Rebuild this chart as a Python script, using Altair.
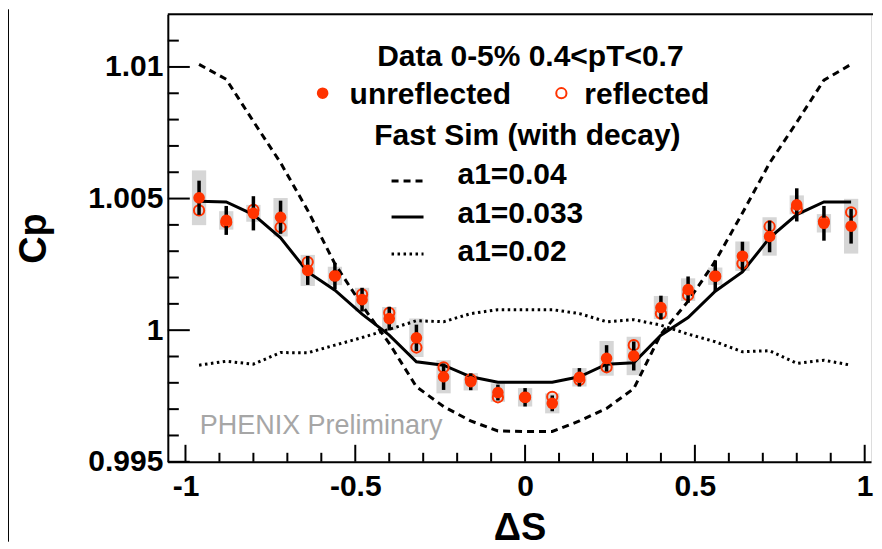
import altair as alt
import pandas as pd

# ---------------- data ----------------
delta_s = [-0.96, -0.88, -0.80, -0.72, -0.64, -0.56, -0.48, -0.40, -0.32, -0.24, -0.16, -0.08, 0.0,
           0.08, 0.16, 0.24, 0.32, 0.40, 0.48, 0.56, 0.64, 0.72, 0.80, 0.88, 0.96]

unreflected = [1.00503, 1.00417, 1.00444, 1.00429, 1.00227, 1.00206, 1.00116, 1.00044, 0.99971,
               0.99823, 0.99804, 0.99763, 0.99745, 0.99722, 0.99821, 0.99893, 0.99902, 1.00086,
               1.00154, 1.00205, 1.00281, 1.00356, 1.00476, 1.00406, 1.00395]

reflected = [1.00455, 1.00410, 1.00457, 1.00391, 1.00259, 1.00206, 1.00136, 1.00066, 0.99934,
             0.99859, 0.99813, 0.99745, 0.99745, 0.99747, 0.99811, 0.99859, 0.99943, 1.00063,
             1.00133, 1.00205, 1.00253, 1.00394, 1.00461, 1.00413, 1.00448]

stat_err = [0.00065, 0.00055, 0.00065, 0.00063, 0.00055, 0.00050, 0.00045, 0.00045, 0.00050,
            0.00050, 0.00032, 0.00030, 0.00035, 0.00030, 0.00035, 0.00050, 0.00055, 0.00045,
            0.00050, 0.00060, 0.00055, 0.00060, 0.00063, 0.00066, 0.00066]

sys_err = [0.00104, 0.00035, 0.00032, 0.00073, 0.00059, 0.00035, 0.00045, 0.00044, 0.00073,
           0.00063, 0.00033, 0.00035, 0.00035, 0.00038, 0.00035, 0.00066, 0.00073, 0.00044,
           0.00043, 0.00033, 0.00056, 0.00073, 0.00036, 0.00035, 0.00104]

sim_a1_004 = [1.01010, 1.00953, 1.00793, 1.00636, 1.00455, 1.00252, 1.00094, 0.99950, 0.99785,
              0.99710, 0.99655, 0.99617, 0.99615, 0.99615, 0.99655, 0.99703, 0.99778, 0.99985,
              1.00110, 1.00262, 1.00445, 1.00635, 1.00790, 1.00950, 1.01010]

sim_a1_0033 = [1.00490, 1.00487, 1.00439, 1.00351, 1.00221, 1.00152, 1.00061, 0.99981, 0.99880,
               0.99867, 0.99823, 0.99802, 0.99802, 0.99802, 0.99823, 0.99871, 0.99876, 0.99981,
               1.00048, 1.00148, 1.00221, 1.00351, 1.00439, 1.00487, 1.00487]

sim_a1_002 = [0.99867, 0.99882, 0.99871, 0.99915, 0.99914, 0.99943, 0.99972, 1.00003, 1.00036,
              1.00032, 1.00063, 1.00078, 1.00078, 1.00078, 1.00063, 1.00032, 1.00040, 1.00019,
              0.99985, 0.99956, 0.99918, 0.99922, 0.99874, 0.99886, 0.99867]

x_major = [-1.0, -0.5, 0.0, 0.5, 1.0]
x_minor = [-0.9, -0.8, -0.7, -0.6, -0.4, -0.3, -0.2, -0.1, 0.1, 0.2, 0.3, 0.4, 0.6, 0.7, 0.8, 0.9]
y_major = [0.995, 1.0, 1.005, 1.01]
y_minor = [0.996, 0.997, 0.998, 0.999, 1.001, 1.002, 1.003, 1.004, 1.006, 1.007, 1.008, 1.009, 1.011]

legend_texts = ["Data 0-5% 0.4<pT<0.7", "unreflected", "reflected", "Fast Sim (with decay)",
                "a1=0.04", "a1=0.033", "a1=0.02"]
watermark = "PHENIX Preliminary"

# ---------------- layout / style ----------------
W, H = 704, 448
PX_PER_UNIT = 340
XMIN = -1.052
XDOM = [XMIN, XMIN + W / PX_PER_UNIT]
YDOM = [0.995, 1.012]
RED = "#ff3300"
FONT = "Liberation Sans"
BOX_HALF_W = 0.021

xs = alt.Scale(domain=XDOM, nice=False, zero=False)
ys = alt.Scale(domain=YDOM, nice=False, zero=False)

x_axis = alt.Axis(values=x_major, labelExpr="toString(datum.value)", ticks=False, grid=False,
                  domainColor="black", domainWidth=2, labelFont=FONT, labelFontSize=30,
                  labelFontWeight="bold", labelColor="black", labelPadding=10,
                  titleFont=FONT, titleFontSize=38, titleFontWeight="bold", titleColor="black",
                  titlePadding=8, labelFlush=False)
y_axis = alt.Axis(values=y_major, labelExpr="toString(datum.value)", ticks=False, grid=False,
                  domainColor="black", domainWidth=2, labelFont=FONT, labelFontSize=30,
                  labelFontWeight="bold", labelColor="black", labelPadding=5,
                  titleFont=FONT, titleFontSize=38, titleFontWeight="bold", titleColor="black",
                  titlePadding=34, labelFlush=False)


def X(field):
    return alt.X(field, type="quantitative", scale=xs, axis=x_axis, title="ΔS")


def Y(field):
    return alt.Y(field, type="quantitative", scale=ys, axis=y_axis, title="Cp")


df = pd.DataFrame({
    "ds": delta_s, "unref": unreflected, "refl": reflected,
    "stat": stat_err, "sys": sys_err,
    "s004": sim_a1_004, "s0033": sim_a1_0033, "s002": sim_a1_002,
})

base = alt.Chart(df)

boxes = base.transform_calculate(
    xlo=f"datum.ds - {BOX_HALF_W}", xhi=f"datum.ds + {BOX_HALF_W}",
    ylo="datum.unref - datum.sys", yhi="datum.unref + datum.sys",
).mark_rect(color="#d6d6d6").encode(x=X("xlo"), x2="xhi", y=Y("ylo"), y2="yhi")

line004 = base.mark_line(color="black", strokeWidth=3, strokeDash=[7, 5]).encode(x=X("ds"), y=Y("s004"))
line0033 = base.mark_line(color="black", strokeWidth=3).encode(x=X("ds"), y=Y("s0033"))
line002 = base.mark_line(color="black", strokeWidth=3, strokeDash=[2.5, 3.5]).encode(x=X("ds"), y=Y("s002"))

open_pts = base.mark_point(shape="circle", filled=False, size=105, strokeWidth=2, color=RED,
                           opacity=1).encode(x=X("ds"), y=Y("refl"))

errbars = base.transform_calculate(
    elo="datum.unref - datum.stat", ehi="datum.unref + datum.stat",
).mark_rule(color="black", strokeWidth=3.5).encode(x=X("ds"), y=Y("elo"), y2="ehi")

filled_pts = base.mark_point(shape="circle", filled=True, size=135, color=RED,
                             opacity=1).encode(x=X("ds"), y=Y("unref"))

# ticks drawn inside the frame (ROOT style)
ymaj = alt.Chart(pd.DataFrame({"v": y_major})).mark_rule(color="black", strokeWidth=2).encode(
    y=Y("v"), x=alt.value(0), x2=alt.value(22))
ymin = alt.Chart(pd.DataFrame({"v": y_minor})).mark_rule(color="black", strokeWidth=2).encode(
    y=Y("v"), x=alt.value(0), x2=alt.value(11))
xmaj = alt.Chart(pd.DataFrame({"v": x_major})).mark_rule(color="black", strokeWidth=2).encode(
    x=X("v"), y=alt.value(H), y2=alt.value(H - 17))
xmin = alt.Chart(pd.DataFrame({"v": x_minor})).mark_rule(color="black", strokeWidth=2).encode(
    x=X("v"), y=alt.value(H), y2=alt.value(H - 9))

one = pd.DataFrame({"k": [0]})
top_frame = alt.Chart(one).mark_rule(color="black", strokeWidth=2).encode(
    x=alt.value(0), x2=alt.value(W + 2), y=alt.value(0))
canvas_edge = alt.Chart(one).mark_rule(color="black", strokeWidth=1).encode(
    x=alt.value(-159.5), y=alt.value(-5), y2=alt.value(H + 80))


def txt(label, x, y, align="left", size=30, color="black", weight="bold"):
    return alt.Chart(pd.DataFrame({"t": [label]})).mark_text(
        align=align, baseline="alphabetic", font=FONT, fontSize=size, fontWeight=weight,
        color=color).encode(text="t:N", x=alt.value(x), y=alt.value(y))


def sample(y, dash=None):
    kw = dict(color="black", strokeWidth=3)
    if dash is not None:
        kw["strokeDash"] = dash
    return alt.Chart(one).mark_rule(**kw).encode(x=alt.value(224), x2=alt.value(256), y=alt.value(y))


legend = [
    txt(legend_texts[0], 363, 52, align="center"),
    alt.Chart(one).mark_point(shape="circle", filled=True, size=135, color=RED, opacity=1).encode(
        x=alt.value(155), y=alt.value(79)),
    txt(legend_texts[1], 182, 90),
    alt.Chart(one).mark_point(shape="circle", filled=False, size=105, strokeWidth=2, color=RED,
                              opacity=1).encode(x=alt.value(394), y=alt.value(79)),
    txt(legend_texts[2], 417, 90),
    txt(legend_texts[3], 360, 131, align="center"),
    sample(167, [7, 5]), txt(legend_texts[4], 290, 170),
    sample(203), txt(legend_texts[5], 290, 209),
    sample(240, [2.5, 3.5]), txt(legend_texts[6], 290, 247),
    txt(watermark, 32, 420, size=27, color="#a6a6a6", weight="normal"),
]

chart = alt.layer(
    boxes, line004, line0033, line002, open_pts, errbars, filled_pts,
    ymaj, ymin, xmaj, xmin, top_frame, canvas_edge, *legend
).properties(
    width=W, height=H,
    padding={"left": 0, "top": 0, "right": 0, "bottom": 0},
).configure_view(stroke=None).configure(background="white")

chart.save("out.html", embed_options={"renderer": "svg", "actions": False})
